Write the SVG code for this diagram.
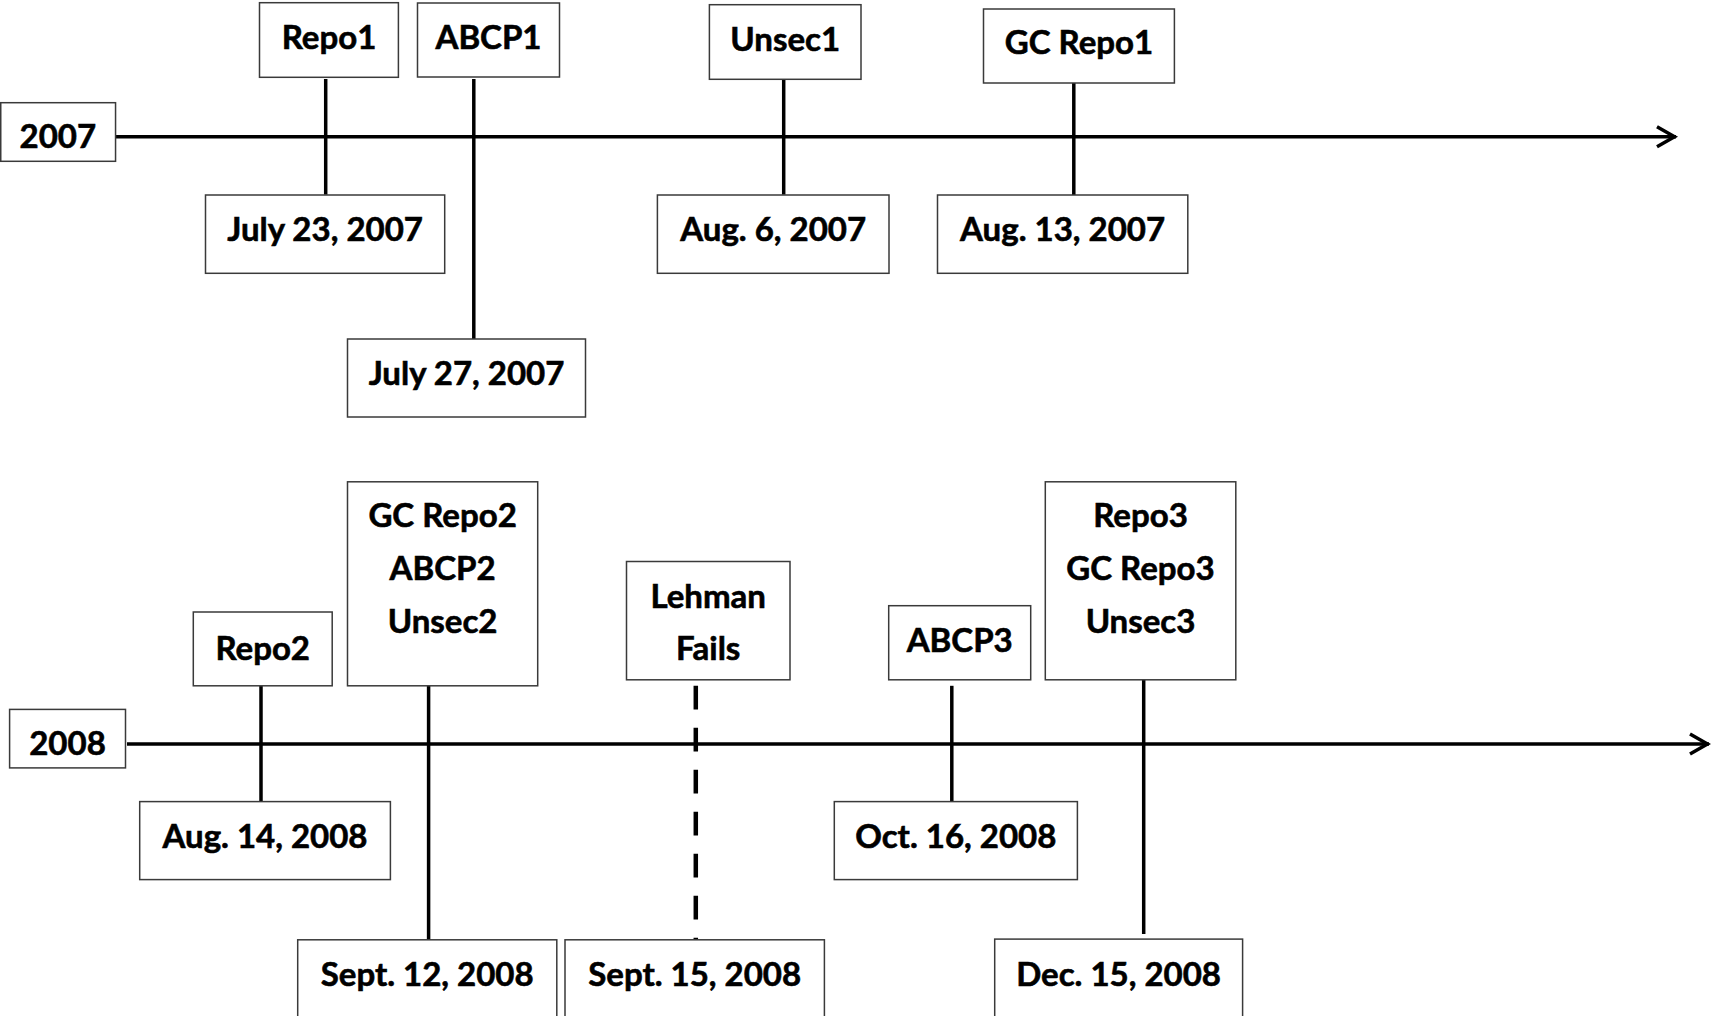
<svg xmlns="http://www.w3.org/2000/svg" width="1711" height="1016" viewBox="0 0 1711 1016">
<style>
.box{fill:#fff;stroke:#3a3a3a;stroke-width:1.5}
.t{font-family:Lato,"Liberation Sans",sans-serif;font-weight:700;font-size:33px;fill:#000;stroke:#000;stroke-width:0.6;text-anchor:middle}
.ax{stroke:#000;stroke-width:3.5;fill:none}
.tk{stroke:#000;stroke-width:3.5;fill:none}
.dash{stroke-width:4.5;stroke-dasharray:23.7 18.3}
</style>
<defs>
<marker id="arr" markerUnits="userSpaceOnUse" viewBox="-25 -15 30 30" markerWidth="30" markerHeight="30" refX="0" refY="0" orient="auto">
<path d="M-19,-10 L-1.5,0 L-19,10" fill="none" stroke="#000" stroke-width="3.5"/>
</marker>
</defs>
<rect width="1711" height="1016" fill="#fff"/>
<g id="connectors">
<path class="ax" d="M115.6,136.7 H1676" marker-end="url(#arr)"/>
<path class="tk" d="M325.7,79 V194.7"/>
<path class="tk" d="M473.8,79 V339"/>
<path class="tk" d="M783.7,79.3 V194.7"/>
<path class="tk" d="M1073.8,83 V198.7"/>
<path class="ax" d="M127,743.9 H1709" marker-end="url(#arr)"/>
<path class="tk" d="M261,685.8 V801.3"/>
<path class="tk" d="M428.6,685.8 V939.8"/>
<path class="tk dash" d="M695.8,685.8 V939.8"/>
<path class="tk" d="M951.8,685.8 V801.3"/>
<path class="tk" d="M1143.7,679.8 V933.9"/>
</g>
<g id="y2007"><rect class="box" x="0.75" y="102.7" width="114.8" height="58.6"/><text class="t" x="57.8" y="148.3">2007</text></g>
<g id="repo1"><rect class="box" x="259.5" y="2.7" width="138.9" height="74.6"/><text class="t" x="329" y="49.3">Repo1</text></g>
<g id="abcp1"><rect class="box" x="417.5" y="3" width="142" height="74"/><text class="t" x="488.5" y="49.3">ABCP1</text></g>
<g id="unsec1"><rect class="box" x="709.4" y="4.7" width="151.6" height="74.6"/><text class="t" x="785.2" y="51">Unsec1</text></g>
<g id="gcrepo1"><rect class="box" x="983.5" y="9" width="190.9" height="74"/><text class="t" x="1079" y="54.3">GC Repo1</text></g>
<g id="jul23"><rect class="box" x="205.5" y="195" width="239.2" height="78.3"/><text class="t" x="325.1" y="240.7">July 23, 2007</text></g>
<g id="jul27"><rect class="box" x="347.5" y="339" width="238" height="78"/><text class="t" x="466.5" y="385">July 27, 2007</text></g>
<g id="aug6"><rect class="box" x="657.4" y="195" width="231.6" height="78.3"/><text class="t" x="773.2" y="240.7">Aug. 6, 2007</text></g>
<g id="aug13"><rect class="box" x="937.5" y="195" width="250.3" height="78.3"/><text class="t" x="1062.6" y="240.7">Aug. 13, 2007</text></g>
<g id="y2008"><rect class="box" x="9.6" y="709.4" width="115.9" height="58.5"/><text class="t" x="67.5" y="754.7">2008</text></g>
<g id="repo2"><rect class="box" x="193.3" y="612" width="138.9" height="73.8"/><text class="t" x="262.7" y="659.7">Repo2</text></g>
<g id="gcrepo2"><rect class="box" x="347.5" y="481.8" width="190.2" height="204"/><text class="t" x="442.6" y="527.4">GC Repo2</text><text class="t" x="442.6" y="579.6">ABCP2</text><text class="t" x="442.6" y="632.5">Unsec2</text></g>
<g id="lehman"><rect class="box" x="626.5" y="561.5" width="163.5" height="118.3"/><text class="t" x="708.2" y="607.5">Lehman</text><text class="t" x="708.2" y="660.4">Fails</text></g>
<g id="abcp3"><rect class="box" x="888.7" y="605.7" width="142" height="74.1"/><text class="t" x="959.7" y="652">ABCP3</text></g>
<g id="repo3"><rect class="box" x="1045.3" y="481.8" width="190.5" height="198"/><text class="t" x="1140.5" y="527.4">Repo3</text><text class="t" x="1140.5" y="579.6">GC Repo3</text><text class="t" x="1140.5" y="632.5">Unsec3</text></g>
<g id="aug14"><rect class="box" x="139.7" y="801.6" width="250.7" height="78"/><text class="t" x="265" y="847.6">Aug. 14, 2008</text></g>
<g id="oct16"><rect class="box" x="834.3" y="801.6" width="243.1" height="78"/><text class="t" x="955.8" y="847.6">Oct. 16, 2008</text></g>
<g id="sep12"><rect class="box" x="297.7" y="939.8" width="259.1" height="90"/><text class="t" x="427.2" y="986">Sept. 12, 2008</text></g>
<g id="sep15"><rect class="box" x="565" y="939.8" width="259.4" height="90"/><text class="t" x="694.7" y="986">Sept. 15, 2008</text></g>
<g id="dec15"><rect class="box" x="994.7" y="939.1" width="247.9" height="90"/><text class="t" x="1118.6" y="986">Dec. 15, 2008</text></g>
</svg>
